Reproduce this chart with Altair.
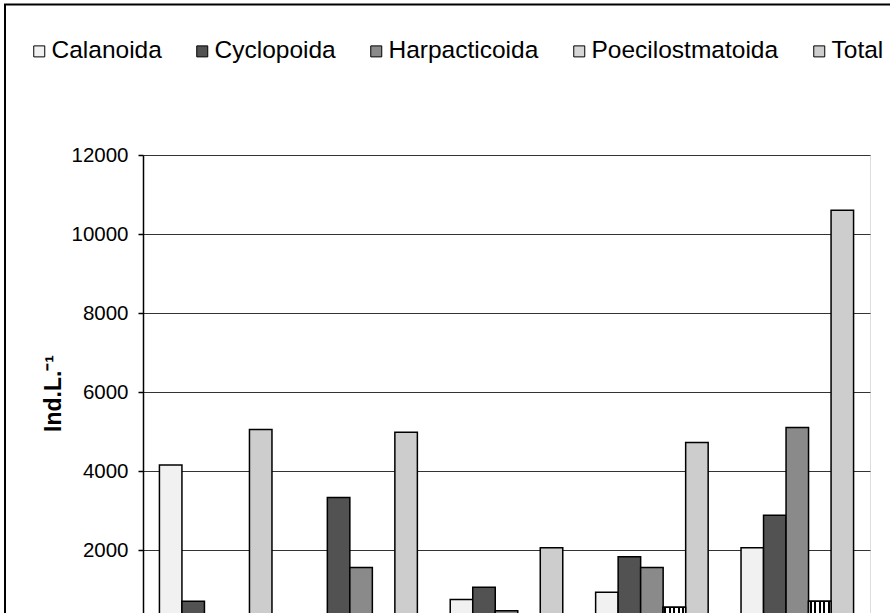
import altair as alt
import pandas as pd

# ---- data ----
groups = ["I", "II", "III", "IV", "V"]
series = ["Calanoida", "Cyclopoida", "Harpacticoida", "Poecilostmatoida", "Total"]
calanoida = [4150, 50, 750, 930, 2060]
cyclopoida = [700, 3330, 1060, 1830, 2880]
harpacticoida = [150, 1560, 460, 1560, 5100]
poecilostmatoida = [50, 30, 20, 550, 700]
total = [5050, 4980, 2060, 4720, 10600]
y_ticks = [0, 2000, 4000, 6000, 8000, 10000, 12000]

values = [calanoida, cyclopoida, harpacticoida, poecilostmatoida, total]
rows = []
for s, vals in zip(series, values):
    for g, v in zip(groups, vals):
        rows.append({"group": g, "series": s, "value": v})
df = pd.DataFrame(rows)

colors = ["#f1f1f1", "#525252", "#8a8a8a", "#d6d6d6", "#cdcdcd"]

# vertical stripe fill for Poecilostmatoida
stops = [{"offset": 0, "color": "white"}]
n = 5
for i in range(n):
    c = (i + 0.5) / n
    a, b = c - 0.045, c + 0.045
    stops += [{"offset": a, "color": "white"}, {"offset": a, "color": "black"},
              {"offset": b, "color": "black"}, {"offset": b, "color": "white"}]
stops.append({"offset": 1, "color": "white"})
stripe_fill = {"gradient": "linear", "x1": 0, "y1": 0, "x2": 1, "y2": 0, "stops": stops}

base = alt.Chart(df).encode(
    x=alt.X("group:N", sort=groups,
            scale=alt.Scale(paddingInner=0.226, paddingOuter=0.113),
            axis=alt.Axis(title=None, labels=False, domainColor="black",
                          domainWidth=1.5, ticks=False, grid=False)),
    xOffset=alt.XOffset("series:N", sort=series,
                        scale=alt.Scale(domain=series, paddingInner=0, paddingOuter=0)),
    y=alt.Y("value:Q", scale=alt.Scale(domain=[0, 12000], nice=False),
            axis=alt.Axis(values=y_ticks, format="d", title="Ind.L.⁻¹",
                          labelExpr="datum.value == 0 ? '' : datum.label",
                          labelFont="Liberation Sans", labelFontSize=20.5,
                          labelColor="black", labelPadding=10,
                          domainColor="black", domainWidth=1.5,
                          tickColor="black", tickSize=5, tickWidth=1.5,
                          gridColor="#333333", gridWidth=1.2,
                          titleFont="Liberation Sans", titleFontWeight="bold",
                          titleFontSize=23, titleColor="black",
                          titleAngle=270, titleX=-90, titleY=238,
                          titleAlign="center", titleBaseline="middle")),
)

bars = base.mark_bar(stroke="black", strokeWidth=1.5).encode(
    color=alt.Color("series:N", sort=series,
                    scale=alt.Scale(domain=series, range=colors),
                    legend=alt.Legend(title=None, orient="none", direction="horizontal",
                                      columns=5, legendX=-116, legendY=-116,
                                      columnPadding=28, padding=0,
                                      labelFont="Liberation Sans", labelFontSize=24.5,
                                      labelColor="black", labelOffset=0, labelLimit=400,
                                      symbolType="square", symbolSize=121,
                                      symbolStrokeColor="black", symbolStrokeWidth=1))
)

poec = base.transform_filter(alt.datum.series == "Poecilostmatoida").mark_bar(
    stroke="black", strokeWidth=1.5, fill=stripe_fill)

frame = alt.Chart(pd.DataFrame({"k": [0]})).mark_rect(
    filled=False, stroke="black", strokeWidth=2).encode(
    x=alt.value(-138), x2=alt.value(1000), y=alt.value(-150.5), y2=alt.value(900))

chart = alt.layer(frame, bars, poec).properties(
    width=727, height=474,
    padding={"left": 143, "top": 155, "right": 20, "bottom": 20},
    autosize=alt.AutoSizeParams(type="none"),
).configure_view(strokeWidth=0).configure(background="white")

chart.save("out.html", embed_options={"renderer": "svg", "actions": False})
